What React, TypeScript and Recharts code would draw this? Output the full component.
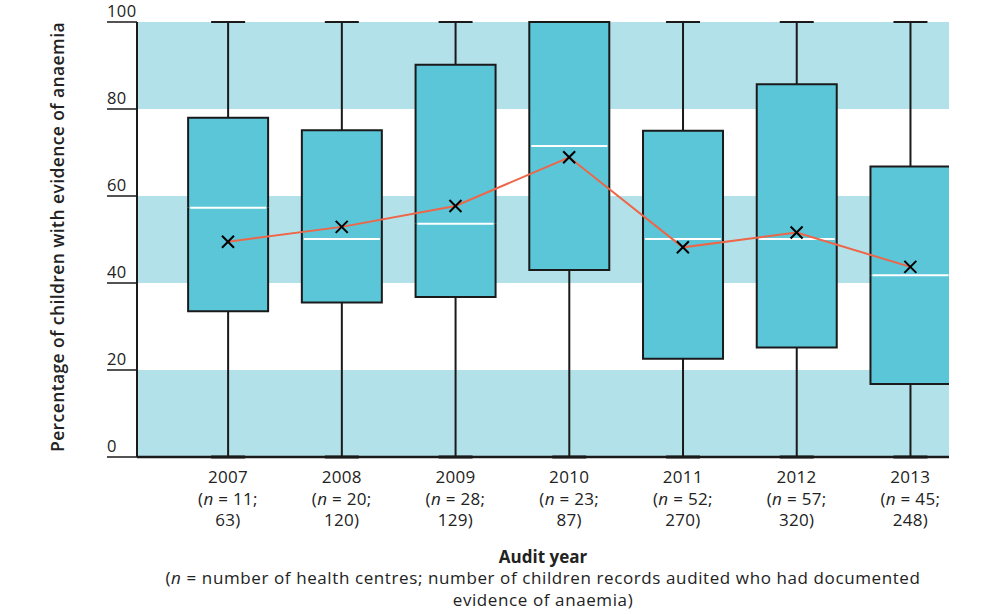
import React from "react";
import {
  ComposedChart,
  Bar,
  Line,
  XAxis,
  YAxis,
  ReferenceArea,
} from "recharts";

// audit years and sample sizes shown under each box
const years = ["2007", "2008", "2009", "2010", "2011", "2012", "2013"];
const centres = [11, 20, 28, 23, 52, 57, 45];
const records = [63, 120, 129, 87, 270, 320, 248];

// box plot stats (% of children with evidence of anaemia)
const whiskerLow = [0, 0, 0, 0, 0, 0, 0];
const whiskerHigh = [100, 100, 100, 100, 100, 100, 100];
const q1 = [33.5, 35.5, 36.8, 43.0, 22.6, 25.2, 16.8];
const median = [57.3, 50.1, 53.6, 71.5, 50.1, 50.1, 41.8];
const q3 = [78.0, 75.1, 90.2, 100, 75.0, 85.7, 66.8];
const mean = [49.5, 52.9, 57.7, 68.9, 48.2, 51.6, 43.7];

const yTicks = [0, 20, 40, 60, 80, 100];
const bands = [
  [0, 20],
  [40, 60],
  [80, 100],
];

const data = years.map((year, i) => ({
  idx: i,
  year,
  n: centres[i],
  rec: records[i],
  base: q1[i],
  lowerBox: median[i] - q1[i],
  upperBox: q3[i] - median[i],
  whisker: [whiskerLow[i], whiskerHigh[i]],
  mean: mean[i],
}));

const INK = "#1a1a1a";
const BOX = "#5bc6d8";
const BAND = "#b3e1e9";
const MEAN_LINE = "#ee6548";
const FONT = "'Open Sans', Lato, sans-serif";
const X_DOMAIN: [number, number] = [-0.8, 6.34];

const Whisker = (props: any) => {
  const { x, y, width, height } = props;
  const cx = x + width / 2;
  return (
    <g stroke={INK} strokeWidth={2}>
      <line x1={cx} x2={cx} y1={y} y2={y + height} />
      <line x1={x} x2={x + width} y1={y} y2={y} />
      <line x1={x} x2={x + width} y1={y + height} y2={y + height} strokeWidth={3} />
    </g>
  );
};

const LowerBox = (props: any) => {
  const { x, y, width, height } = props;
  return (
    <g>
      <rect x={x} y={y} width={width} height={height} fill={BOX} />
      <path
        d={`M${x},${y} L${x},${y + height} L${x + width},${y + height} L${x + width},${y}`}
        fill="none"
        stroke={INK}
        strokeWidth={2}
      />
    </g>
  );
};

const UpperBox = (props: any) => {
  const { x, y, width, height } = props;
  return (
    <g>
      <rect x={x} y={y} width={width} height={height} fill={BOX} />
      <path
        d={`M${x},${y + height} L${x},${y} L${x + width},${y} L${x + width},${y + height}`}
        fill="none"
        stroke={INK}
        strokeWidth={2}
      />
      {/* median */}
      <line x1={x + 2} x2={x + width - 2} y1={y + height} y2={y + height} stroke="#fff" strokeWidth={2} />
    </g>
  );
};

const MeanMark = (props: any) => {
  const { cx, cy } = props;
  if (cx == null || cy == null) return null;
  const s = 6;
  return (
    <g stroke="#000" strokeWidth={2}>
      <line x1={cx - s} x2={cx + s} y1={cy - s} y2={cy + s} />
      <line x1={cx - s} x2={cx + s} y1={cy + s} y2={cy - s} />
    </g>
  );
};

const YTick = (props: any) => {
  const { x, y, payload } = props;
  return (
    <g>
      <line x1={x - 30} x2={x} y1={y} y2={y} stroke={INK} strokeWidth={1.5} />
      <text x={x - 30} y={y - 5} fontSize={16.5} letterSpacing={0.4} fill="#222" fontFamily={FONT}>
        {payload.value}
      </text>
    </g>
  );
};

const XTick = (props: any) => {
  const { x, y, payload } = props;
  const d = data[payload.value];
  if (!d) return null;
  return (
    <text x={x} y={y} textAnchor="middle" fontSize={17} letterSpacing={0.3} fill="#222" fontFamily={FONT}>
      <tspan x={x} dy={26}>{d.year}</tspan>
      <tspan x={x} dy={21.5}>
        (<tspan fontStyle="italic">n</tspan> = {d.n};
      </tspan>
      <tspan x={x} dy={21.5}>{d.rec})</tspan>
    </text>
  );
};

const XLabel = (props: any) => {
  const vb = props.viewBox || { x: 137, y: 457, width: 812 };
  const cx = vb.x + vb.width / 2;
  const top = vb.y;
  return (
    <g fontFamily={FONT} fill="#222" textAnchor="middle">
      <text x={cx} y={top + 106} fontSize={17} fontWeight={700}>
        Audit year
      </text>
      <text x={cx} y={top + 127} fontSize={17} letterSpacing={0.6}>
        (<tspan fontStyle="italic">n</tspan> = number of health centres; number of children records audited who had documented
      </text>
      <text x={cx} y={top + 149} fontSize={17} letterSpacing={0.6}>
        evidence of anaemia)
      </text>
    </g>
  );
};

const YLabel = () => (
  <text
    x={0}
    y={0}
    transform="translate(64,237) rotate(-90)"
    textAnchor="middle"
    fontSize={17.5}
    fontWeight={600}
    letterSpacing={0.4}
    fill="#222"
    fontFamily={FONT}
  >
    Percentage of children with evidence of anaemia
  </text>
);

export default function App() {
  return (
    <div style={{ position: "absolute", left: 0, top: 0, width: 1000, height: 614, background: "#fff" }}>
      <ComposedChart
        width={1000}
        height={614}
        data={data}
        margin={{ top: 22, right: 51, bottom: 0, left: 0 }}
      >
        <XAxis
          xAxisId="main"
          type="number"
          dataKey="idx"
          domain={X_DOMAIN}
          allowDataOverflow
          ticks={[0, 1, 2, 3, 4, 5, 6]}
          interval={0}
          height={157}
          tickSize={0}
          tickMargin={0}
          tickLine={false}
          axisLine={{ stroke: INK, strokeWidth: 2.5 }}
          tick={<XTick />}
          label={<XLabel />}
        />
        <XAxis xAxisId="w" type="number" dataKey="idx" domain={X_DOMAIN} allowDataOverflow hide />
        <YAxis
          type="number"
          domain={[0, 100]}
          ticks={yTicks}
          width={137}
          tickSize={0}
          tickMargin={0}
          tickLine={false}
          axisLine={{ stroke: INK, strokeWidth: 2 }}
          tick={<YTick />}
          label={<YLabel />}
        />
        {bands.map(([lo, hi]) => (
          <ReferenceArea
            key={lo}
            xAxisId="main"
            y1={lo}
            y2={hi}
            fill={BAND}
            fillOpacity={1}
            stroke="none"
          />
        ))}
        <Bar xAxisId="w" dataKey="whisker" barSize={34} shape={<Whisker />} isAnimationActive={false} />
        <Bar xAxisId="main" dataKey="base" stackId="box" barSize={80} fill="none" isAnimationActive={false} />
        <Bar xAxisId="main" dataKey="lowerBox" stackId="box" barSize={80} shape={<LowerBox />} isAnimationActive={false} />
        <Bar xAxisId="main" dataKey="upperBox" stackId="box" barSize={80} shape={<UpperBox />} isAnimationActive={false} />
        <Line
          xAxisId="main"
          type="linear"
          dataKey="mean"
          stroke={MEAN_LINE}
          strokeWidth={2}
          dot={<MeanMark />}
          activeDot={false}
          isAnimationActive={false}
        />
      </ComposedChart>
    </div>
  );
}
